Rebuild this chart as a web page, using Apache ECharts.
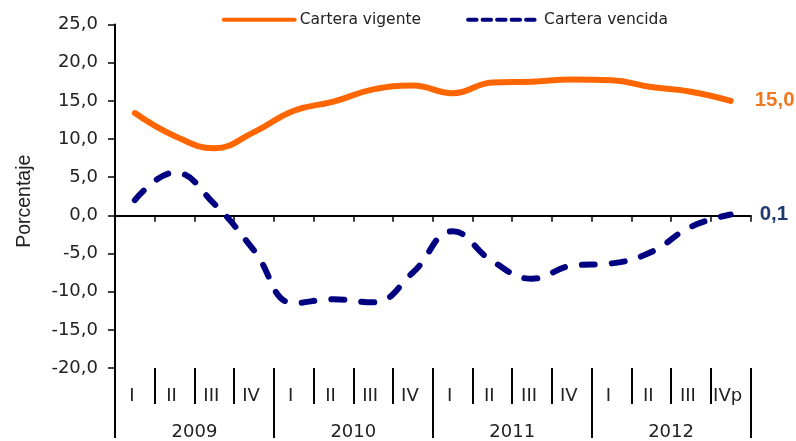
<!DOCTYPE html>
<html>
<head>
<meta charset="utf-8">
<script src="https://cdn.jsdelivr.net/npm/echarts@6/dist/echarts.min.js"></script>
<style>
  html, body { margin: 0; padding: 0; background: #fff; }
  #chart { width: 796px; height: 441px; }
</style>
</head>
<body>
<div id="chart"></div>
<script>
const quarters = ["I", "II", "III", "IV", "I", "II", "III", "IV", "I", "II", "III", "IV", "I", "II", "III", "IVp"];
const years = ["2009", "2010", "2011", "2012"];
const vigente = [13.4, 10.4, 8.8, 10.9, 13.7, 14.9, 16.5, 17.0, 16.0, 17.4, 17.5, 17.8, 17.7, 16.8, 16.2, 15.0];
const vencida = [2.0, 5.6, 1.5, -4.6, -11.5, -11.0, -11.4, -7.5, -2.1, -6.0, -8.3, -6.6, -6.3, -4.8, -1.5, 0.1];

const fmt = v => Number(v).toFixed(1).replace(".", ",");
const textColor = "#222";

const chart = echarts.init(document.getElementById("chart"));

chart.setOption({
  animation: false,
  grid: { left: 115, right: 45.5, top: 24.5, bottom: 69 },
  legend: {
    left: 221.7,
    top: 11.7,
    padding: 0,
    itemWidth: 71,
    itemHeight: 14,
    itemGap: 45,
    textStyle: { fontFamily: "DejaVu Sans", fontSize: 15.5, color: textColor },
    data: [
      { name: "Cartera vigente", itemStyle: { opacity: 0 }, lineStyle: { width: 4, cap: "round" } },
      { name: "Cartera vencida", itemStyle: { opacity: 0 }, lineStyle: { width: 4, type: [8.5, 6], cap: "round" } }
    ]
  },
  xAxis: [
    {
      // eje en cero
      type: "category",
      data: quarters,
      position: "bottom",
      axisLine: { show: true, onZero: true, lineStyle: { color: "#000", width: 2 } },
      axisTick: { show: true, interval: 0, length: 6.5, lineStyle: { color: "#000", width: 1.5 } },
      axisLabel: { show: false }
    },
    {
      type: "category",
      data: quarters,
      position: "bottom",
      axisLine: { show: true, onZero: false, lineStyle: { color: "#000", width: 2, opacity: 0 } },
      axisTick: { show: true, interval: 0, length: 36, lineStyle: { color: "#000", width: 2 } },
      axisLabel: {
        interval: 0, margin: 19, padding: [0, 6, 0, 0],
        fontFamily: "DejaVu Sans", fontSize: 18, color: textColor
      }
    },
    {
      type: "category",
      data: years,
      position: "bottom",
      axisLine: { show: true, onZero: false, lineStyle: { color: "#000", width: 2, opacity: 0 } },
      axisTick: { show: true, interval: 0, length: 70, lineStyle: { color: "#000", width: 2 } },
      axisLabel: { interval: 0, margin: 55, fontFamily: "DejaVu Sans", fontSize: 18, color: textColor }
    }
  ],
  yAxis: {
    type: "value",
    min: -20,
    max: 25,
    interval: 5,
    name: "Porcentaje",
    nameLocation: "middle",
    nameRotate: 90,
    nameGap: 80,
    nameTextStyle: { fontFamily: "Liberation Sans", fontSize: 19.5, color: textColor, padding: [0, 10, 0, 0] },
    axisLine: { show: true, lineStyle: { color: "#000", width: 2 } },
    axisTick: { show: true, length: 7, lineStyle: { color: "#000", width: 1.5 } },
    axisLabel: { margin: 17, fontFamily: "DejaVu Sans", fontSize: 18, color: textColor, formatter: fmt },
    splitLine: { show: false }
  },
  series: [
    {
      name: "Cartera vigente",
      type: "line",
      data: vigente,
      smooth: 0.45,
      symbol: "none",
      lineStyle: { color: "#FF6600", width: 6, cap: "round" },
      itemStyle: { color: "#FF6600" },
      endLabel: {
        show: true,
        distance: 24,
        formatter: p => fmt(p.value),
        fontFamily: "Liberation Sans",
        fontWeight: "bold",
        fontSize: 20.5,
        color: "#F07820"
      }
    },
    {
      name: "Cartera vencida",
      type: "line",
      data: vencida,
      smooth: 0.45,
      symbol: "none",
      lineStyle: { color: "#000080", width: 6, type: [13, 17], cap: "round" },
      itemStyle: { color: "#000080" },
      endLabel: {
        show: true,
        distance: 29,
        formatter: p => fmt(p.value),
        fontFamily: "Liberation Sans",
        fontWeight: "bold",
        fontSize: 20.5,
        color: "#1F3A70"
      }
    }
  ]
});
</script>
</body>
</html>
